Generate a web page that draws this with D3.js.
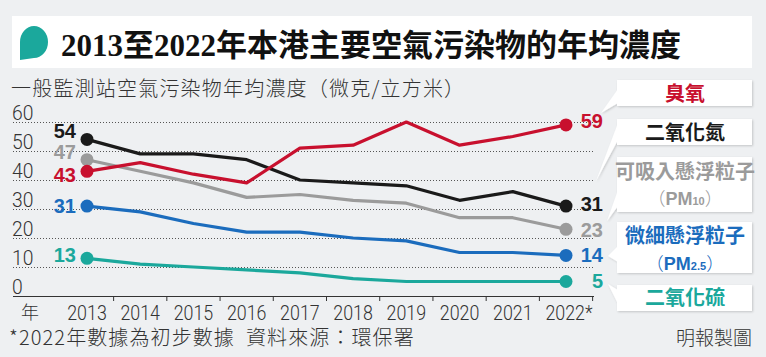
<!DOCTYPE html>
<html><head><meta charset="utf-8">
<script src="https://cdn.jsdelivr.net/npm/d3@7"></script>
<style>
html,body{margin:0;padding:0;background:#eef0f2;}
svg{display:block;}
.num{font-family:"Roboto","Liberation Sans",sans-serif;}
.cjk{font-family:"Noto Sans CJK TC","Noto Sans",sans-serif;}
</style></head>
<body>
<svg id="c" width="766" height="357"></svg>
<script>
const years = [2013,2014,2015,2016,2017,2018,2019,2020,2021,2022];
const yearLabels = ["2013","2014","2015","2016","2017","2018","2019","2020","2021","2022*"];
const yTicks = [0,10,20,30,40,50,60];
const ozone = [43,46,42,39,51,52,60,52,55,59];
const no2   = [54,49,49,47,40,39,38,33,36,31];
const pm10  = [47,43,39,34,35,33,32,27,27,23];
const pm25  = [31,29,25,22,22,20,19,15,15,14];
const so2   = [13,11,10,9,8,6,5,5,5,5];
const startLabels = [43,54,47,31,13];
const endLabels = [59,31,23,14,5];
const seriesNames = ["臭氧","二氧化氮","可吸入懸浮粒子","微細懸浮粒子","二氧化硫"];
const title = "2013至2022年本港主要空氣污染物的年均濃度";
const subtitle = "一般監測站空氣污染物年均濃度（微克/立方米）";
const footnote = "*2022年數據為初步數據  資料來源：環保署";
const credit = "明報製圖";

const colors = ["#c8102e","#1a1a1a","#9b9b9b","#1b6cbd","#1ba89c"];
const seriesData = [ozone,no2,pm10,pm25,so2];
const startDy = [4,-8,-8,0,-3];
const endDy = [-4,-2,1,0,-1];

const svg = d3.select("#c");
const x = d3.scaleLinear().domain([2013,2022]).range([87,566]);
const y = d3.scaleLinear().domain([0,60]).range([296,122]);
const step = x(2014)-x(2013);

// title band
svg.append("rect").attr("x",12).attr("y",16).attr("width",740).attr("height",52).attr("fill","#fff");
svg.append("path").attr("d","M20,60 L20,42 A14,16 0 1,1 34,58 Z").attr("fill","#1ba89c");
svg.append("text").attr("x",61).attr("y",56).attr("font-size",31).attr("font-weight","bold")
  .attr("fill","#111").style("font-family",'"Liberation Serif","DejaVu Serif","Noto Sans CJK TC",serif')
  .text(title);
svg.append("text").attr("class","cjk").attr("x",11).attr("y",96).attr("font-size",20).attr("font-weight",300)
  .attr("letter-spacing",1.2).attr("fill","#333").text(subtitle);

// grid
const g = svg.append("g");
g.selectAll("line.grid").data(yTicks.filter(d=>d>0)).join("line")
  .attr("x1",13).attr("x2",593).attr("y1",d=>y(d)+0.5).attr("y2",d=>y(d)+0.5)
  .attr("stroke","#555").attr("stroke-width",1).attr("stroke-dasharray","1,2");
g.selectAll("text.yl").data(yTicks).join("text").attr("class","num")
  .attr("transform",d=>`translate(12,${y(d)-2}) scale(0.92,1)`).attr("font-size",21).attr("font-weight",300).attr("fill","#333").text(d=>d);
// x axis
g.append("line").attr("x1",13).attr("x2",594).attr("y1",296.5).attr("y2",296.5).attr("stroke","#333").attr("stroke-width",1.2);
g.selectAll("line.tk").data(years).join("line")
  .attr("x1",d=>x(d)+step/2).attr("x2",d=>x(d)+step/2).attr("y1",296).attr("y2",301)
  .attr("stroke","#333").attr("stroke-width",1);
g.selectAll("text.xl").data(years).join("text").attr("class","num")
  .attr("transform",(d,i)=>`translate(${x(d)+(i===years.length-1?3:0)},320) scale(0.85,1)`)
  .attr("text-anchor","middle").attr("font-size",21).attr("font-weight",300).attr("fill","#333")
  .text((d,i)=>yearLabels[i]);
g.append("text").attr("class","cjk").attr("x",21).attr("y",319).attr("font-size",18).attr("font-weight",300).attr("fill","#333").text("年");

// series
const line = d3.line().x((d,i)=>x(years[i])).y(d=>y(d));
const order = [2,4,3,1,0];
order.forEach(si=>{
  const data = seriesData[si];
  svg.append("path").attr("d",line(data)).attr("fill","none").attr("stroke",colors[si])
    .attr("stroke-width",3.2).attr("stroke-linejoin","round");
  [0,data.length-1].forEach(i=>{
    svg.append("circle").attr("cx",x(years[i])).attr("cy",y(data[i])).attr("r",6.5).attr("fill",colors[si]);
  });
  svg.append("text").attr("x",76).attr("y",y(data[0])+startDy[si]+7).attr("text-anchor","end")
    .attr("font-size",20).attr("font-weight","bold").attr("fill",colors[si])
    .style("font-family",'"Liberation Sans",Arial,sans-serif').text(startLabels[si]);
  svg.append("text").attr("x",603).attr("y",y(data[data.length-1])+endDy[si]+7).attr("text-anchor","end")
    .attr("font-size",20).attr("font-weight","bold").attr("fill",colors[si])
    .style("font-family",'"Liberation Sans",Arial,sans-serif').text(endLabels[si]);
});

// legend boxes
const boxes = [
  {y0:80,y1:106,ptr:[[618,89],[618,103],[601,113]]},
  {y0:119,y1:145,ptr:[[618,123],[618,140],[596,181]]},
  {y0:157,y1:212,ptr:[[618,190],[618,206],[607,221]]},
  {y0:222,y1:273,ptr:[[618,246],[618,262],[608,256]]},
  {y0:285,y1:311,ptr:[[618,290],[618,304],[608,284]]}
];
const lg = svg.append("g");
const defs = svg.append("defs");
const f = defs.append("filter").attr("id","sh").attr("x","-10%").attr("y","-20%").attr("width","130%").attr("height","150%");
f.append("feDropShadow").attr("dx",1).attr("dy",1).attr("stdDeviation",1.2).attr("flood-color","#000").attr("flood-opacity",0.18);
boxes.forEach((b,i)=>{
  const gg = lg.append("g").attr("filter","url(#sh)");
  gg.append("path").attr("d",d3.line()(b.ptr)+"Z").attr("fill","#fff");
  gg.append("rect").attr("x",617).attr("y",b.y0).attr("width",135).attr("height",b.y1-b.y0).attr("fill","#fff");
});
const lt = (txt,yy,c)=>lg.append("text").attr("class","cjk").attr("x",685).attr("y",yy).attr("text-anchor","middle")
  .attr("font-size",20).attr("font-weight","bold").attr("fill",c).text(txt);
lt(seriesNames[0],101,colors[0]);
lt(seriesNames[1],140,colors[1]);
lt(seriesNames[2],179,colors[2]);
lt(seriesNames[3],243,colors[3]);
lt(seriesNames[4],305,colors[4]);
function pmLine(yy,c,sub){
  const t = lg.append("text").attr("class","cjk").attr("x",685).attr("y",yy).attr("text-anchor","middle")
    .attr("font-size",18).attr("font-weight","bold").attr("fill",c);
  t.append("tspan").attr("font-weight",300).text("（");
  t.append("tspan").style("font-family",'"Liberation Sans",Arial,sans-serif').text("PM");
  t.append("tspan").attr("font-size",11).style("font-family",'"Liberation Sans",Arial,sans-serif').text(sub);
  t.append("tspan").attr("font-weight",300).text("）");
}
pmLine(205,colors[2],"10");
pmLine(270,colors[3],"2.5");

// footer
svg.append("text").attr("class","cjk").attr("x",9).attr("y",345).attr("font-size",20).attr("font-weight",300)
  .attr("letter-spacing",1.1).attr("fill","#333").attr("xml:space","preserve").style("white-space","pre").text(footnote);
svg.append("text").attr("class","cjk").attr("x",752).attr("y",345).attr("text-anchor","end").attr("font-size",19).attr("font-weight",300).attr("fill","#333").text(credit);
</script>
</body></html>
